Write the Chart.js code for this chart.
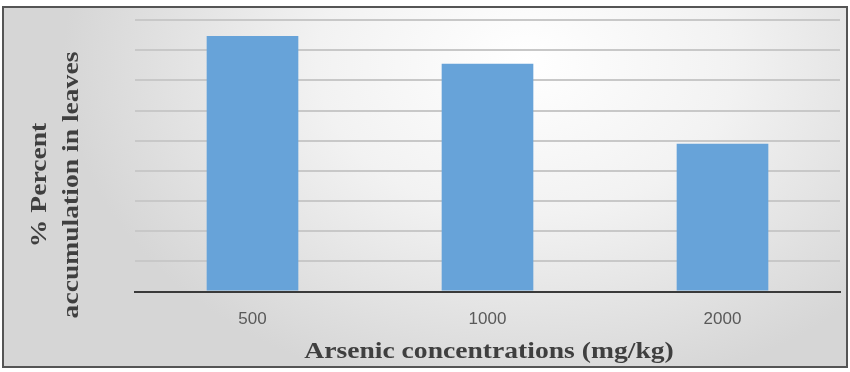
<!DOCTYPE html>
<html>
<head>
<meta charset="utf-8">
<script src="https://cdn.jsdelivr.net/npm/chart.js@4.4.1/dist/chart.umd.min.js"></script>
<style>
  body { margin: 0; background: #ffffff; }
  #frame {
    position: absolute; left: 2px; top: 6px; width: 846px; height: 362px;
    box-sizing: border-box; border: 2px solid #555555;
    background: radial-gradient(ellipse 55% 95% at 62% 15%, #ffffff 0%, #f2f2f2 45%, #d6d6d6 100%);
  }
  #accChart { position: absolute; left: 0; top: 0; }
</style>
</head>
<body>
<div id="frame"></div>
<canvas id="accChart" width="850" height="372"></canvas>
<script>
const concentrations = ["500", "1000", "2000"];
const accumulation = [84.7, 75.5, 49.0];
const yTicks = [0, 10, 20, 30, 40, 50, 60, 70, 80, 90];

const yTitleLines = ["% Percent", "accumulation in leaves"];
const xTitle = "Arsenic concentrations (mg/kg)";

// titles are drawn a bit wide, like the original picture
const titlePlugin = {
  id: "titles",
  afterDraw(chart) {
    const ctx = chart.ctx;
    ctx.save();
    ctx.fillStyle = "#3f3f3f";
    ctx.font = "bold 23px 'Liberation Serif', 'DejaVu Serif', serif";
    ctx.textAlign = "center";
    ctx.textBaseline = "middle";

    const xs = [40, 72];
    yTitleLines.forEach((line, i) => {
      ctx.save();
      ctx.translate(xs[i], 185);
      ctx.rotate(-Math.PI / 2);
      ctx.scale(1.2, 1);
      ctx.fillText(line, 0, 0);
      ctx.restore();
    });

    ctx.save();
    ctx.translate(489, 352);
    ctx.scale(1.2, 1);
    ctx.fillText(xTitle, 0, 0);
    ctx.restore();
    ctx.restore();
  }
};

new Chart(document.getElementById("accChart"), {
  type: "bar",
  data: {
    labels: concentrations,
    datasets: [{
      data: accumulation,
      backgroundColor: "#67a3d9",
      borderWidth: 0,
      barPercentage: 0.39,
      categoryPercentage: 1
    }]
  },
  options: {
    responsive: false,
    animation: false,
    layout: { padding: { top: 20, right: 10, bottom: 24, left: 0 } },
    plugins: {
      legend: { display: false },
      tooltip: { enabled: false }
    },
    scales: {
      x: {
        grid: { display: false, drawTicks: false },
        border: { display: true, color: "#3a3a3a", width: 2 },
        ticks: {
          color: "#595959",
          padding: 18,
          font: { family: "'Liberation Sans', Arial, sans-serif", size: 17 }
        }
      },
      y: {
        min: 0,
        max: 90,
        afterBuildTicks(scale) {
          scale.ticks = yTicks.map(v => ({ value: v }));
        },
        afterFit(scale) {
          scale.width = 135;
        },
        grid: { color: "#c8c8c8", lineWidth: 2, drawTicks: false },
        border: { display: false },
        ticks: { display: false }
      }
    }
  },
  plugins: [titlePlugin]
});
</script>
</body>
</html>
